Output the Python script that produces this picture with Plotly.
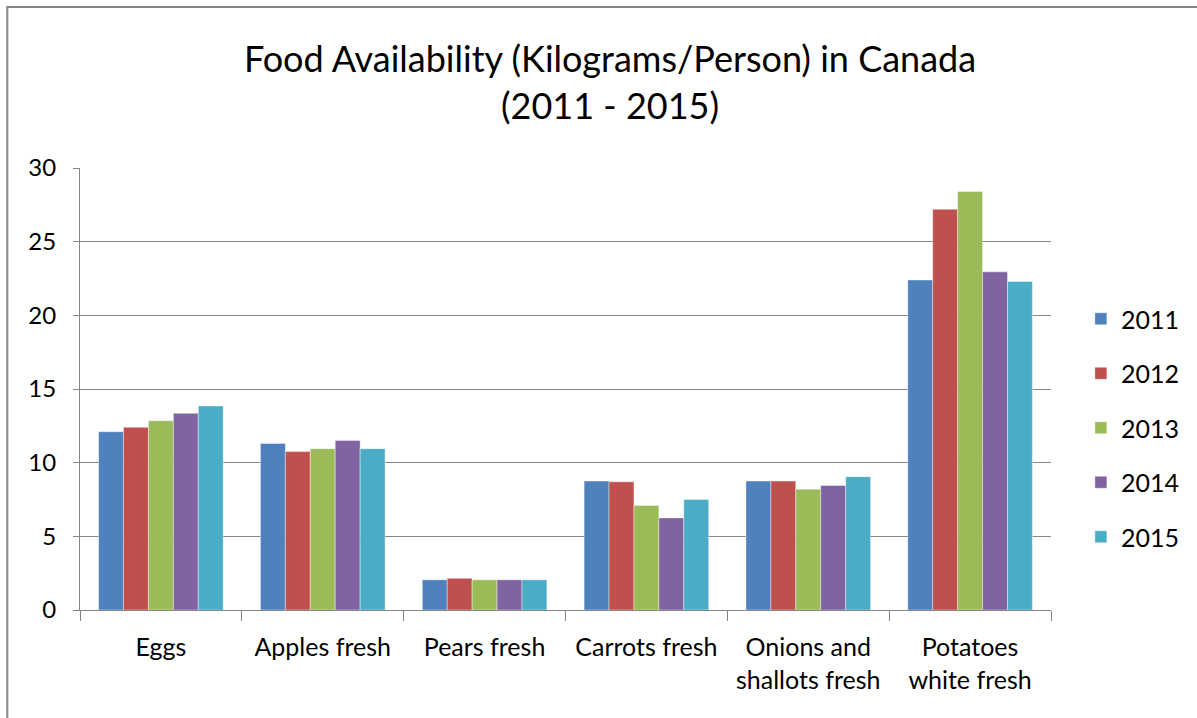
import plotly.graph_objects as go

categories = ["Eggs", "Apples fresh", "Pears fresh", "Carrots fresh",
              "Onions and<br>shallots fresh", "Potatoes<br>white fresh"]
years = ["2011", "2012", "2013", "2014", "2015"]
v2011 = [12.1, 11.3, 2.05, 8.75, 8.75, 22.4]
v2012 = [12.4, 10.75, 2.15, 8.7, 8.75, 27.2]
v2013 = [12.85, 10.95, 2.05, 7.1, 8.2, 28.4]
v2014 = [13.35, 11.5, 2.05, 6.25, 8.45, 22.95]
v2015 = [13.85, 10.95, 2.05, 7.5, 9.05, 22.3]
series = [v2011, v2012, v2013, v2014, v2015]
colors = ["#4F81BD", "#C0504D", "#9BBB59", "#8064A2", "#4BACC6"]

FONT = "Lato"

fig = go.Figure()
for yr, vals, c in zip(years, series, colors):
    fig.add_trace(go.Bar(
        x=categories, y=vals, name=yr, legendgroup=yr,
        marker=dict(color=c, line=dict(color="rgba(255,255,255,0.5)", width=0.8)),
    ))

W, H = 1197, 718
L, R, T, B = 80, 142, 168, 108
pw, ph = W - L - R, H - T - B

fig.update_layout(
    width=W, height=H,
    margin=dict(l=L, r=R, t=T, b=B),
    paper_bgcolor="white", plot_bgcolor="white",
    barmode="group", bargap=0.23, bargroupgap=0,
    font=dict(family=FONT, size=24, color="#000000"),
    title=dict(
        text="Food Availability (Kilograms/Person) in Canada<br>(2011 - 2015)",
        x=610 / W, xref="container", xanchor="center",
        y=1 - 72 / H, yref="container", yanchor="middle",
        font=dict(family=FONT, size=36, color="#000000"),
    ),
    legend=dict(
        x=1 + (1085 - (W - R)) / pw, xanchor="left",
        y=(H - B - 428) / ph, yanchor="middle",
        font=dict(family=FONT, size=25, color="#000000"),
        tracegroupgap=19, traceorder="grouped",
        itemwidth=30,
    ),
    xaxis=dict(
        showgrid=False, showline=True, linecolor="#868686", linewidth=1,
        ticks="outside", tickson="boundaries", ticklen=10, tickcolor="#868686",
        tickfont=dict(family=FONT, size=25),
        ticklabelstandoff=15,
    ),
    yaxis=dict(
        range=[0, 30], dtick=5, showgrid=True, gridcolor="#868686", gridwidth=1,
        showline=True, linecolor="#868686", linewidth=1,
        ticks="outside", ticklen=6, tickcolor="#868686",
        tickfont=dict(family=FONT, size=24),
        ticklabelstandoff=12,
        zeroline=False,
    ),
    shapes=[dict(
        type="rect", xref="paper", yref="paper",
        x0=(7 - L) / pw, x1=(W + 20 - L) / pw,
        y0=(H - B - (H + 20)) / ph, y1=(H - B - 7) / ph,
        line=dict(color="#868686", width=2), fillcolor="rgba(0,0,0,0)",
        layer="below",
    )],
)

fig.write_html("out.html", config={"displayModeBar": False},
               post_script="document.body.style.margin='0';")
